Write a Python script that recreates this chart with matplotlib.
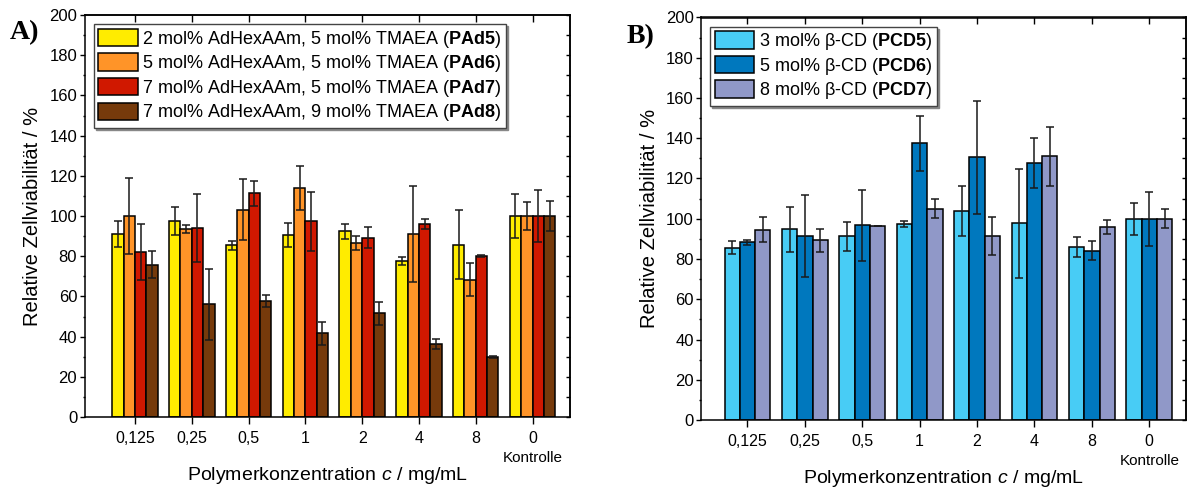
import numpy as np
import matplotlib
matplotlib.use("Agg")
import matplotlib.pyplot as plt
from matplotlib.ticker import MultipleLocator
from matplotlib.transforms import blended_transform_factory

plt.rcParams['font.family'] = ['Liberation Sans', 'DejaVu Sans']
plt.rcParams['mathtext.fontset'] = 'custom'
plt.rcParams['mathtext.rm'] = 'Liberation Sans'
plt.rcParams['mathtext.bf'] = 'Liberation Sans:bold'
plt.rcParams['mathtext.it'] = 'Liberation Sans:italic'

# ---------------- data ----------------
categories = ["0,125", "0,25", "0,5", "1", "2", "4", "8", "0"]

labels_A = ["2 mol% AdHexAAm, 5 mol% TMAEA ($\\mathbf{PAd5}$)",
            "5 mol% AdHexAAm, 5 mol% TMAEA ($\\mathbf{PAd6}$)",
            "7 mol% AdHexAAm, 5 mol% TMAEA ($\\mathbf{PAd7}$)",
            "7 mol% AdHexAAm, 9 mol% TMAEA ($\\mathbf{PAd8}$)"]
PAd5 = [91.0, 97.6, 85.4, 90.6, 92.3, 77.6, 85.8, 100]
PAd5_err = [6.5, 7.0, 2.2, 6.0, 3.8, 2.0, 17.0, 10.8]
PAd6 = [100.0, 93.6, 103.2, 114.1, 86.6, 91.1, 68.2, 100]
PAd6_err = [19.0, 2.0, 15.0, 11.0, 3.3, 24.0, 8.2, 7.2]
PAd7 = [82.1, 93.9, 111.2, 97.3, 89.1, 95.9, 80.0, 100]
PAd7_err = [14.0, 17.0, 6.0, 14.6, 5.2, 2.6, 0.5, 12.8]
PAd8 = [75.8, 56.0, 57.7, 41.6, 51.7, 36.1, 29.8, 100]
PAd8_err = [6.6, 17.5, 3.0, 5.6, 5.7, 2.5, 0.5, 7.6]
colors_A = ["#FFEC00", "#FF9428", "#D01800", "#763A0B"]

labels_B = ["3 mol% β-CD ($\\mathbf{PCD5}$)",
            "5 mol% β-CD ($\\mathbf{PCD6}$)",
            "8 mol% β-CD ($\\mathbf{PCD7}$)"]
PCD5 = [85.7, 94.7, 91.2, 97.3, 103.8, 97.8, 85.9, 100]
PCD5_err = [3.0, 11.0, 7.0, 1.6, 12.4, 27.0, 5.0, 8.0]
PCD6 = [88.2, 91.5, 96.7, 137.6, 130.5, 127.7, 84.2, 100]
PCD6_err = [1.1, 20.3, 17.6, 13.7, 28.0, 12.2, 4.6, 13.4]
PCD7 = [94.5, 89.4, 96.5, 105.0, 91.4, 131.0, 96.0, 100]
PCD7_err = [6.2, 5.7, 0.0, 4.6, 9.3, 14.8, 3.4, 4.6]
colors_B = ["#48CCF5", "#0078BE", "#9098C8"]

ylabel = "Relative Zellviabilität / %"
xlabel = "Polymerkonzentration $\\it{c}$ / mg/mL"

# ---------------- figure ----------------
fig = plt.figure(figsize=(11.88, 4.88), dpi=100)
W, H = 1188, 488


def make_axes(l, r, t, b):
    return fig.add_axes([l / W, 1 - b / H, (r - l) / W, (b - t) / H])


def style(ax, xlim):
    x = np.arange(1, len(categories) + 1)
    ax.set_xlim(*xlim)
    ax.set_ylim(0, 200)
    ax.set_xticks(x)
    ax.set_xticklabels(categories, fontsize=11.5)
    ax.yaxis.set_major_locator(MultipleLocator(20))
    ax.yaxis.set_minor_locator(MultipleLocator(10))
    ax.tick_params(axis='y', which='major', direction='out', length=3.3, width=1.0,
                   labelsize=12, pad=2)
    ax.tick_params(axis='y', which='minor', direction='out', length=1.8, width=1.0)
    ax.tick_params(axis='x', which='major', direction='out', length=5, width=1.0, pad=5)
    for s in ax.spines.values():
        s.set_linewidth(1.1)
    sec_y = ax.secondary_yaxis('right')
    sec_y.yaxis.set_major_locator(MultipleLocator(20))
    sec_y.yaxis.set_minor_locator(MultipleLocator(10))
    sec_y.tick_params(which='both', direction='in', length=3.0, width=1.0, labelright=False)
    sec_y.spines['right'].set_linewidth(1.1)
    sec_x = ax.secondary_xaxis('top')
    sec_x.set_xticks(x)
    sec_x.tick_params(direction='in', length=5, width=1.0, labeltop=False)
    sec_x.spines['top'].set_linewidth(1.1)
    ax.set_ylabel(ylabel, fontsize=14.5, labelpad=5)
    ax.set_xlabel(xlabel, fontsize=14, labelpad=14)
    tr = blended_transform_factory(ax.transData, ax.transAxes)
    ax.text(len(categories), -0.102, "Kontrolle", transform=tr, ha='center', va='center',
            fontsize=11)


def draw_bars(ax, series, errs, colors, labels, width):
    x = np.arange(1, len(categories) + 1)
    n = len(series)
    handles = []
    for i, (vals, err, c, lab) in enumerate(zip(series, errs, colors, labels)):
        off = (i - (n - 1) / 2) * width
        h = ax.bar(x + off, vals, width=width, color=c, edgecolor='black', linewidth=1.1,
                   label=lab, zorder=2)
        ax.errorbar(x + off, vals, yerr=err, fmt='none', ecolor='#1a1a1a', elinewidth=1.1,
                    capsize=3, capthick=1.1, zorder=3)
        handles.append(h)
    leg = ax.legend(handles=handles, loc='upper left', fontsize=13, frameon=True,
                    fancybox=False, shadow={'color': '#888888', 'alpha': 1.0, 'ox': 1.5, 'oy': -1.5},
                    edgecolor='#444444', handlelength=2.2, handleheight=1.1,
                    handletextpad=0.25, labelspacing=0.2, borderpad=0.25,
                    borderaxespad=0.5)
    leg.get_frame().set_linewidth(1.0)
    return leg


axA = make_axes(84.5, 570, 15, 417)
draw_bars(axA, [PAd5, PAd6, PAd7, PAd8], [PAd5_err, PAd6_err, PAd7_err, PAd8_err],
          colors_A, labels_A, 0.2)
style(axA, (0.11, 8.66))

axB = make_axes(701, 1186, 17.5, 420)
draw_bars(axB, [PCD5, PCD6, PCD7], [PCD5_err, PCD6_err, PCD7_err], colors_B, labels_B, 0.2667)
style(axB, (0.19, 8.64))

fig.text(10 / W, 1 - 33 / H, "A)", fontsize=20, fontweight='bold',
         family='Liberation Serif', ha='left', va='center')
fig.text(627 / W, 1 - 37 / H, "B)", fontsize=20, fontweight='bold',
         family='Liberation Serif', ha='left', va='center')

fig.savefig("out.png", dpi=100)
